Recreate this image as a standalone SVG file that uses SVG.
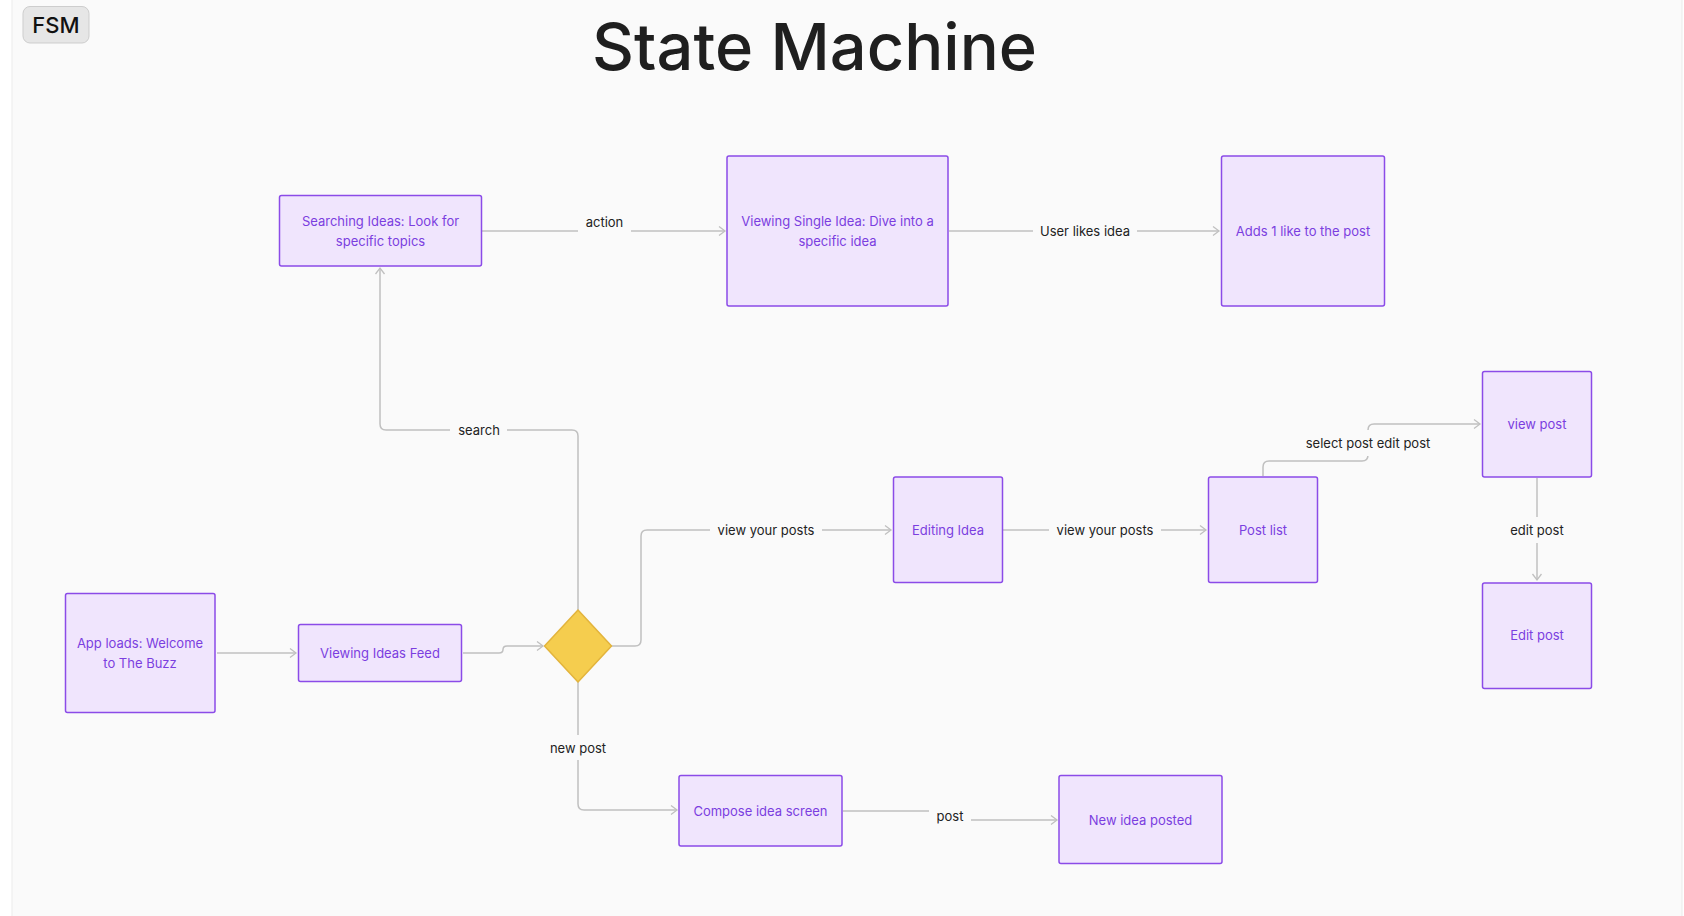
<svg xmlns="http://www.w3.org/2000/svg" width="1684" height="916" viewBox="0 0 1684 916">
  <defs>
    <style>
      .node rect.box { fill: #f0e5fd; stroke: #8b4be8; stroke-width: 1.5; }
      .node text { font-family: Inter, "Noto Sans", "Liberation Sans", sans-serif; font-size: 13px; fill: #7b3ee0; text-anchor: middle; }
      .edges path { fill: none; stroke: #c0c0c0; stroke-width: 1.5; }
      .lbl rect { fill: #fafafa; }
      .lbl text { font-family: Inter, "Noto Sans", "Liberation Sans", sans-serif; font-size: 13px; fill: #222222; text-anchor: middle; }
    </style>
    <marker id="arrow" markerUnits="userSpaceOnUse" markerWidth="10" markerHeight="12" refX="7" refY="5" orient="auto">
      <path d="M1,0.5 L7,5 L1,9.5" fill="none" stroke="#c0c0c0" stroke-width="1.3"/>
    </marker>
  </defs>

  <!-- canvas -->
  <rect x="0" y="0" width="1684" height="916" fill="#ffffff"/>
  <rect x="12" y="-2" width="1670" height="920" fill="#fafafa" stroke="#ebebeb" stroke-width="1"/>

  <!-- badge -->
  <g id="badge">
    <rect x="23" y="6.5" width="66" height="36.5" rx="7" fill="#e6e6e6" stroke="#cdcdcd" stroke-width="1"/>
    <text x="56" y="33" font-family="Inter, 'Noto Sans', 'Liberation Sans', sans-serif" font-size="22" font-weight="500" fill="#111111" text-anchor="middle">FSM</text>
  </g>

  <!-- title -->
  <text id="title" x="814.5" y="70" font-family="Inter, 'Noto Sans', 'Liberation Sans', sans-serif" font-size="65" font-weight="500" fill="#1f1f1f" text-anchor="middle">State Machine</text>

  <!-- connectors -->
  <g id="connectors" class="edges">
    <path d="M217,653 H296" marker-end="url(#arrow)"/>
    <path d="M463,653 H499 Q503,653 503,649.5 Q503,646 507,646 H543" marker-end="url(#arrow)"/>
    <path d="M578,610 V436 Q578,430 572,430 H386 Q380,430 380,424 V268" marker-end="url(#arrow)"/>
    <path d="M482,231 H725" marker-end="url(#arrow)"/>
    <path d="M949,231 H1219" marker-end="url(#arrow)"/>
    <path d="M611,646 H635 Q641,646 641,640 V536 Q641,530 647,530 H891" marker-end="url(#arrow)"/>
    <path d="M1003,530 H1206" marker-end="url(#arrow)"/>
    <path d="M1263,476 V467 Q1263,461 1269,461 H1362 Q1368,461 1368,455 V430 Q1368,424 1374,424 H1480" marker-end="url(#arrow)"/>
    <path d="M1537,478 V580" marker-end="url(#arrow)"/>
    <path d="M578,682 V804 Q578,810 584,810 H677" marker-end="url(#arrow)"/>
    <path d="M843,811 H944 Q950,811 950,815 Q950,820 956,820 H1057" marker-end="url(#arrow)"/>

    <!-- connector labels -->
    <g class="lbl">
      <rect x="578" y="212" width="53" height="22"/>
      <text x="604.5" y="226.5">action</text>
      <rect x="1033" y="221" width="104" height="20"/>
      <text x="1085" y="235.5">User likes idea</text>
      <rect x="450" y="420" width="57" height="20"/>
      <text x="479" y="435">search</text>
      <rect x="710" y="520" width="112" height="20"/>
      <text x="766" y="534.5">view your posts</text>
      <rect x="1049" y="520" width="112" height="20"/>
      <text x="1105" y="534.5">view your posts</text>
      <rect x="1298" y="430" width="140" height="26"/>
      <text x="1368" y="447.5">select post edit post</text>
      <rect x="1505" y="517" width="64" height="26"/>
      <text x="1537" y="534.5">edit post</text>
      <rect x="545" y="735" width="66" height="25"/>
      <text x="578" y="752.5">new post</text>
      <rect x="929" y="805" width="42" height="22"/>
      <text x="950" y="820.5">post</text>
    </g>
  </g>

  <!-- states -->
  <g id="app-loads" class="node">
    <rect class="box" x="65.5" y="593.5" width="149.5" height="119" rx="2"/>
    <text x="140" y="647.5">App loads: Welcome</text>
    <text x="140" y="667.5">to The Buzz</text>
  </g>
  <g id="viewing-feed" class="node">
    <rect class="box" x="298.5" y="624.5" width="163" height="57" rx="2"/>
    <text x="380" y="657.5">Viewing Ideas Feed</text>
  </g>
  <g id="choice" class="node">
    <path d="M578,610 L611.5,646 L578,682 L544.5,646 Z" fill="#f5cd4e" stroke="#e3b43c" stroke-width="1.5" stroke-linejoin="round"/>
  </g>
  <g id="searching" class="node">
    <rect class="box" x="279.5" y="195.5" width="202" height="70.5" rx="2"/>
    <text x="380.5" y="226">Searching Ideas: Look for</text>
    <text x="380.5" y="246">specific topics</text>
  </g>
  <g id="viewing-single" class="node">
    <rect class="box" x="727" y="156" width="221" height="150" rx="2"/>
    <text x="837.5" y="226">Viewing Single Idea: Dive into a</text>
    <text x="837.5" y="245.5">specific idea</text>
  </g>
  <g id="adds-like" class="node">
    <rect class="box" x="1221.5" y="156" width="163" height="150" rx="2"/>
    <text x="1303" y="235.5">Adds 1 like to the post</text>
  </g>
  <g id="editing-idea" class="node">
    <rect class="box" x="893.5" y="477" width="109" height="105.5" rx="2"/>
    <text x="948" y="534.5">Editing Idea</text>
  </g>
  <g id="post-list" class="node">
    <rect class="box" x="1208.5" y="477" width="109" height="105.5" rx="2"/>
    <text x="1263" y="534.5">Post list</text>
  </g>
  <g id="view-post" class="node">
    <rect class="box" x="1482.5" y="371.5" width="109" height="105.5" rx="2"/>
    <text x="1537" y="428.5">view post</text>
  </g>
  <g id="edit-post" class="node">
    <rect class="box" x="1482.5" y="583" width="109" height="105.5" rx="2"/>
    <text x="1537" y="640">Edit post</text>
  </g>
  <g id="compose" class="node">
    <rect class="box" x="679" y="775.5" width="163" height="70.5" rx="2"/>
    <text x="760.5" y="815.5">Compose idea screen</text>
  </g>
  <g id="new-idea" class="node">
    <rect class="box" x="1059" y="775.5" width="163" height="88" rx="2"/>
    <text x="1140.5" y="824.5">New idea posted</text>
  </g>
</svg>
